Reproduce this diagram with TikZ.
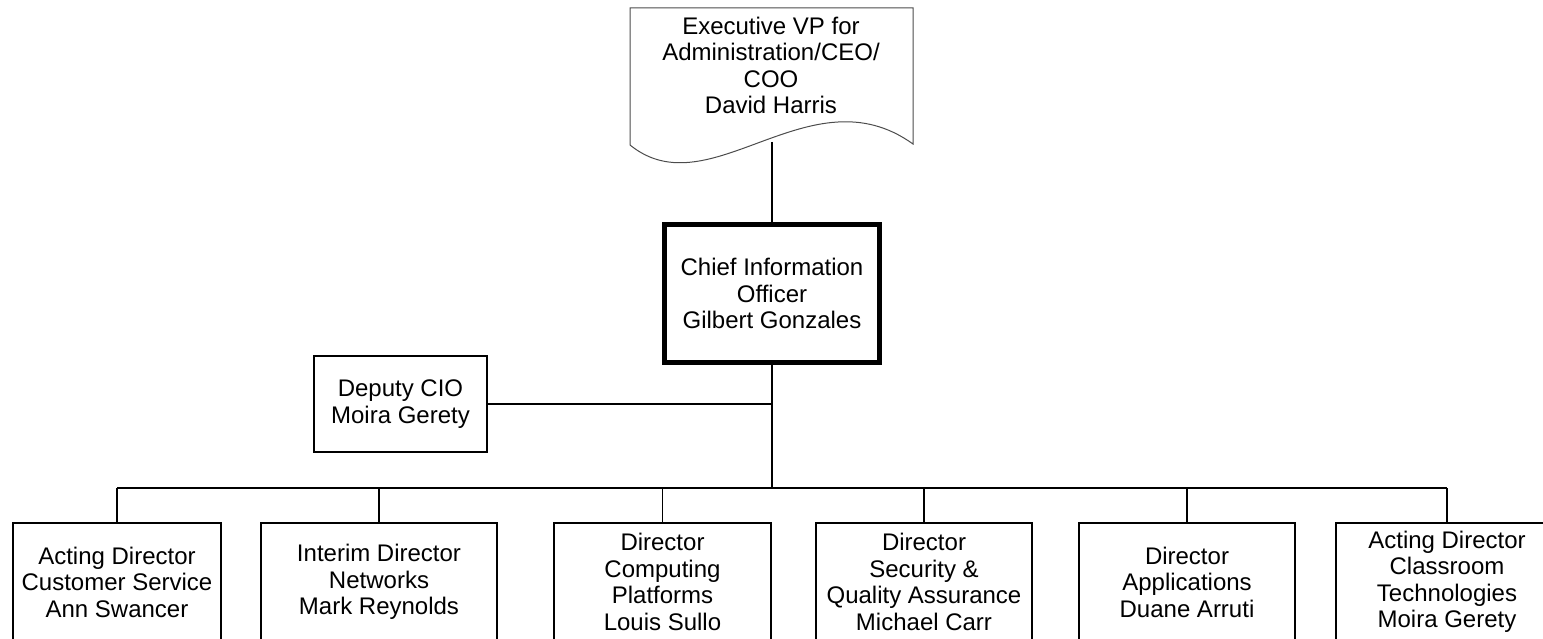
\documentclass[tikz,border=0pt]{standalone}
\usepackage{fontspec}
\setmainfont{Liberation Sans}
\begin{document}
\begin{tikzpicture}[x=1pt,y=-1pt,
  lbl/.style={align=center,font=\fontsize{24}{26.5}\selectfont,inner sep=0pt},
  boxd/.style={lbl,draw,line width=2pt,minimum height=118pt},
  link/.style={line width=1.2pt}]
\useasboundingbox (0,0) rectangle (1543,639);
\clip (0,0) rectangle (1543,639);
% Executive VP document shape
\draw[line width=1pt,draw=black!70] (630,8) -- (913,8) -- (913,144)
  .. controls (810,70) and (710,210) .. (630,145) -- cycle;
\node[lbl] (evp) at (771,65.5) {Executive VP for\\Administration/CEO/\\COO\\David Harris};
\coordinate (evpb) at (772,142);
% CIO
\node[lbl,draw,line width=5pt,minimum width=215pt,minimum height=138pt] (cio) at (772,293.5)
  {Chief Information\\Officer\\Gilbert Gonzales};
% Deputy
\node[lbl,draw,line width=2pt,minimum width=173pt,minimum height=96pt] (dep) at (400.5,404)
  {Deputy CIO\\Moira Gerety};
% Directors
\node[boxd,minimum width=208pt] (d1) at (117,582) {Acting Director\\Customer Service\\Ann Swancer};
\node[boxd,minimum width=236pt] (d2) at (379,582) {Interim Director\\Networks\\Mark Reynolds};
\node[boxd,minimum width=217pt] (d3) at (662.5,582) {Director\\Computing\\Platforms\\Louis Sullo};
\node[boxd,minimum width=216pt] (d4) at (924,582) {Director\\Security \&\\Quality Assurance\\Michael Carr};
\node[boxd,minimum width=216pt] (d5) at (1187,582) {Director\\Applications\\Duane Arruti};
\node[boxd,minimum width=222pt] (d6) at (1447,582) {Acting Director\\Classroom\\Technologies\\Moira Gerety};
% connectors
\coordinate (bus) at (772,488);
\draw[line width=2pt] (evpb) -- (cio.north);
\draw[link] (cio.south) -- (cio.south |- bus);
\draw[link] (dep.east) -- (dep.east -| cio.south);
\draw[link] (d1.north |- bus) -- (d6.north |- bus);
\foreach \n in {d1,d2,d3,d4,d5,d6} \draw[link] (\n.north) -- (\n.north |- bus);
\end{tikzpicture}
\end{document}
